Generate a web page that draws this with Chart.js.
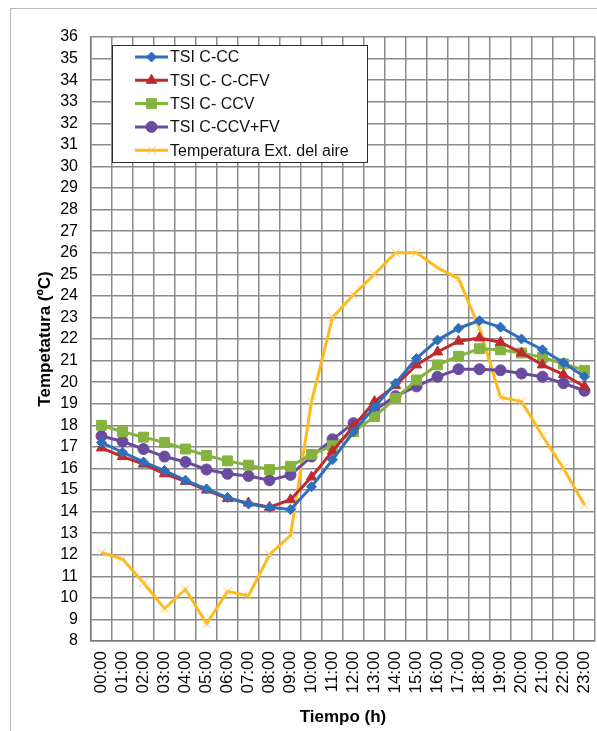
<!DOCTYPE html>
<html lang="es">
<head>
<meta charset="UTF-8">
<title>TSI - Temperatura</title>
<script src="https://cdn.jsdelivr.net/npm/chart.js"></script>
<style>
  html, body { margin: 0; background: #fff; overflow: hidden; }
  .marco {
    position: absolute; left: 10px; top: 8px;
    width: 600px; height: 730px;
    border-left: 1px solid #b8b8b8;
    border-top: 1px solid #b8b8b8;
  }
  #tsiChart { position: absolute; left: 0; top: 0; }
</style>
</head>
<body>
<div class="marco"></div>
<canvas id="tsiChart" width="597" height="731"></canvas>
<script>
const horas = ['00:00', '01:00', '02:00', '03:00', '04:00', '05:00', '06:00', '07:00',
               '08:00', '09:00', '10:00', '11:00', '12:00', '13:00', '14:00', '15:00',
               '16:00', '17:00', '18:00', '19:00', '20:00', '21:00', '22:00', '23:00'];

// temperaturas (ºC) por hora
const tsiCC    = [17.2, 16.75, 16.3, 15.9, 15.45, 15.05, 14.65, 14.35, 14.2, 14.1, 15.15, 16.4,
                  17.7, 18.85, 19.95, 21.1, 21.95, 22.5, 22.85, 22.55, 22.0, 21.5, 20.9, 20.25];
const tsiCCFV  = [16.95, 16.55, 16.2, 15.75, 15.4, 15.0, 14.6, 14.4, 14.2, 14.55, 15.6, 16.8,
                  17.95, 19.1, 19.85, 20.8, 21.4, 21.9, 22.05, 21.85, 21.35, 20.8, 20.35, 19.8];
const tsiCCV   = [18.0, 17.7, 17.45, 17.2, 16.9, 16.6, 16.35, 16.15, 15.95, 16.1, 16.65, 17.05,
                  17.7, 18.4, 19.25, 20.1, 20.8, 21.2, 21.55, 21.5, 21.35, 21.15, 20.85, 20.55];
const tsiCCVFV = [17.5, 17.25, 16.9, 16.55, 16.3, 15.95, 15.75, 15.65, 15.45, 15.7, 16.55, 17.35,
                  18.1, 18.7, 19.35, 19.8, 20.25, 20.6, 20.6, 20.55, 20.4, 20.25, 19.95, 19.6];
const tempExt  = [12.1, 11.8, 10.7, 9.5, 10.4, 8.8, 10.3, 10.1, 12.0, 12.9, 19.1, 23.0,
                  24.05, 25.0, 26.0, 26.0, 25.3, 24.8, 22.5, 19.3, 19.1, 17.5, 16.0, 14.3];

const yMin = 8, yMax = 36;

const FUENTE = "'Liberation Sans', Arial, sans-serif";

function serie(label, data, color, pointStyle, radius, extra) {
    return Object.assign({
        label: label,
        data: data,
        borderColor: color,
        backgroundColor: color,
        pointBackgroundColor: color,
        pointBorderColor: color,
        pointStyle: pointStyle,
        pointRadius: radius,
        pointHoverRadius: radius,
        pointBorderWidth: 1,
        borderWidth: 3,
        tension: 0,
        fill: false
    }, extra || {});
}

// leyenda dentro del área de trazado, arriba a la izquierda
const leyendaInterna = {
    id: 'leyendaInterna',
    afterDraw(chart) {
        const ctx = chart.ctx;
        const x0 = 112, y0 = 45, w = 255, h = 117;
        ctx.save();
        ctx.fillStyle = '#fff';
        ctx.fillRect(x0, y0, w, h);
        ctx.strokeStyle = '#2b2b2b';
        ctx.lineWidth = 1;
        ctx.strokeRect(x0 + 0.5, y0 + 0.5, w, h);
        ctx.font = '16px ' + FUENTE;
        ctx.textBaseline = 'middle';
        chart.data.datasets.forEach((ds, i) => {
            const y = 57 + i * 23.3;
            ctx.strokeStyle = ds.borderColor;
            ctx.lineWidth = 3;
            ctx.beginPath();
            ctx.moveTo(135, y);
            ctx.lineTo(168, y);
            ctx.stroke();
            ctx.fillStyle = ds.pointBackgroundColor;
            ctx.strokeStyle = ds.pointBorderColor;
            ctx.lineWidth = ds.pointBorderWidth;
            Chart.helpers.drawPoint(ctx, {
                pointStyle: ds.pointStyle, radius: ds.pointRadius,
                borderWidth: ds.pointBorderWidth, rotation: 0
            }, 151.5, y);
            ctx.fillStyle = '#111';
            ctx.fillText(ds.label, 170, y + 1);
        });
        ctx.restore();
    }
};

new Chart(document.getElementById('tsiChart'), {
    type: 'line',
    data: {
        labels: horas,
        datasets: [
            serie('TSI C-CC', tsiCC, '#2F6EBA', 'rectRot', 5),
            serie('TSI C- C-CFV', tsiCCFV, '#BE2A2E', 'triangle', 6),
            serie('TSI C- CCV', tsiCCV, '#86B33F', 'rect', 7),
            serie('TSI C-CCV+FV', tsiCCVFV, '#6A4B9E', 'circle', 5.5),
            serie('Temperatura Ext. del aire', tempExt, '#FFB919', 'crossRot', 6,
                  { pointBorderColor: '#F7C85A', pointBorderWidth: 1 })
        ]
    },
    options: {
        responsive: false,
        animation: false,
        events: [],
        layout: {
            autoPadding: false,
            padding: { top: 37, right: 2, bottom: 0, left: 0 }
        },
        plugins: {
            legend: { display: false },
            tooltip: { enabled: false }
        },
        scales: {
            x: {
                offset: true,
                grid: { offset: true, color: '#8a8a8a', lineWidth: 1.5, drawTicks: false },
                border: { color: '#7a7a7a', width: 1.5 },
                ticks: {
                    color: '#000',
                    font: { family: FUENTE, size: 17 },
                    minRotation: 90, maxRotation: 90,
                    autoSkip: false,
                    padding: 10
                },
                title: {
                    display: true,
                    text: 'Tiempo (h)',
                    color: '#000',
                    font: { family: FUENTE, size: 17, weight: 'bold' },
                    padding: { top: 0, bottom: 3 }
                },
                afterFit(scale) {
                    scale.height = 90;
                    scale.paddingLeft = 0;
                    scale.paddingRight = 0;
                }
            },
            y: {
                min: yMin,
                max: yMax,
                grid: { color: '#8a8a8a', lineWidth: 1.5, drawTicks: false },
                border: { color: '#7a7a7a', width: 1.5 },
                ticks: {
                    stepSize: 1,
                    autoSkip: false,
                    color: '#000',
                    font: { family: FUENTE, size: 16 },
                    padding: 13
                },
                title: {
                    display: true,
                    text: 'Tempetatura (ºC)',
                    color: '#000',
                    font: { family: FUENTE, size: 17, weight: 'bold' },
                    padding: { top: 35, bottom: 0 }
                },
                afterFit(scale) { scale.width = 91; }
            }
        }
    },
    plugins: [leyendaInterna]
});
</script>
</body>
</html>
